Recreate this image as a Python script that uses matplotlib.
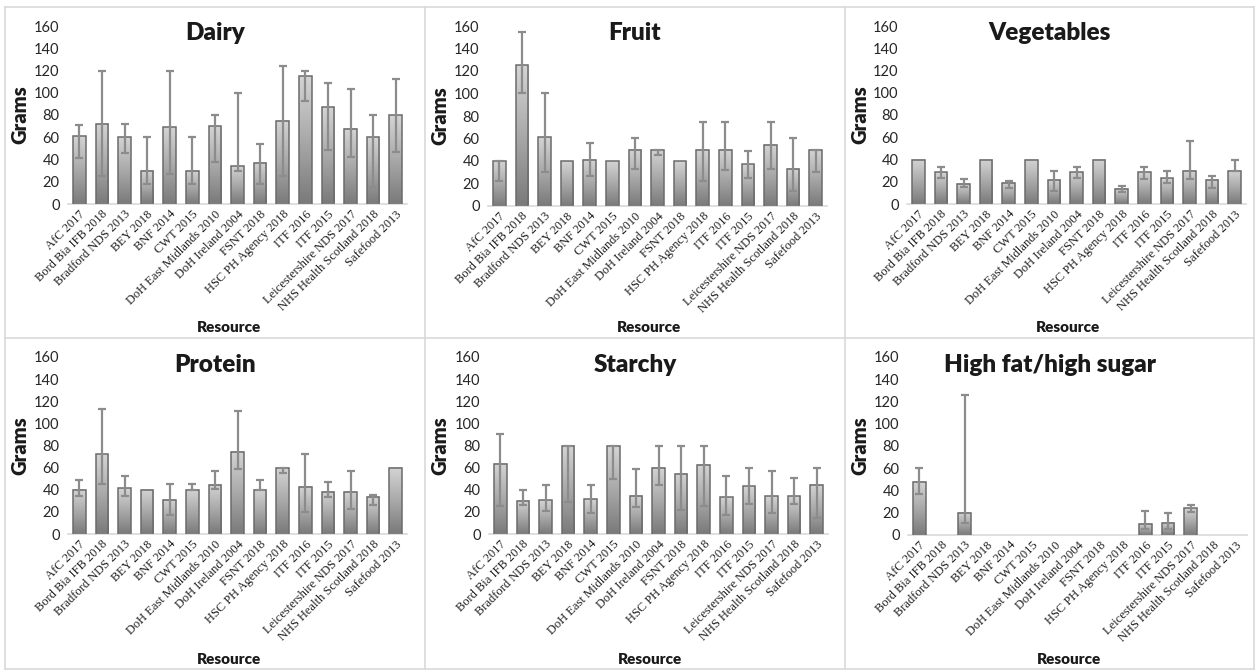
import numpy as np
import matplotlib
matplotlib.use('Agg')
import matplotlib.pyplot as plt
from matplotlib.colors import LinearSegmentedColormap
from matplotlib.lines import Line2D

resources = ['AfC 2017', 'Bord Bia IFB 2018', 'Bradford NDS 2013', 'BEY 2018', 'BNF 2014',
             'CWT 2015', 'DoH East Midlands 2010', 'DoH Ireland 2004', 'FSNT 2018',
             'HSC PH Agency 2018', 'ITF 2016', 'ITF 2015', 'Leicestershire NDS 2017',
             'NHS Health Scotland 2018', 'Safefood 2013']

nan = np.nan

# mean portion (g), lower and upper end of the range
dairy = [61, 72, 60, 30, 69, 30, 70, 34, 37, 75, 115, 87, 67.5, 60, 80]
dairy_lo = [41, 25, 46, 18, 27, 18, 38, 30, 18, 25, 93, 48.5, 42.5, 15.6, 47]
dairy_hi = [71, 120, 72, 60, 120, 60, 80, 100, 54, 124, 120, 109, 103, 80, 112]

fruit = [40, 125, 61, 40, 41, 40, 50, 50, 40, 50, 50, 37, 54.5, 33, 50]
fruit_lo = [22, 100, 30, nan, 27, nan, 33, 45, nan, 22, 32, 25, 33, 13, 30]
fruit_hi = [40, 155, 100, nan, 56, nan, 60, 50, nan, 75, 75, 49, 75, 60, 50]

veg = [40, 28.5, 18, 40, 19, 40, 22, 28.5, 40, 13.5, 28.5, 23, 30, 22, 30]
veg_lo = [nan, 23.7, 15.6, nan, 14.7, nan, 11.7, 23.7, nan, 10.5, 22.5, 18.6, 22.5, 14.7, 30]
veg_hi = [nan, 33.5, 22.5, nan, 20.7, nan, 30, 33.5, nan, 16.5, 33.5, 30, 57, 25.5, 40]

protein = [40, 72, 41.5, 40, 31, 40, 44.5, 74.5, 40, 60, 42.5, 38, 38, 33.5, 60]
protein_lo = [34.5, 45, 34.5, nan, 16.8, 40, 41, 59, 40, 55, 20, 33, 22.8, 26.4, nan]
protein_hi = [49, 113, 52.5, nan, 45.6, 45, 56.5, 111, 49, 60, 72, 47.4, 56.5, 35.7, nan]

starchy = [63.7, 30, 30.6, 80, 31.2, 80, 34.8, 60, 54.6, 62.8, 33, 43, 34, 34.2, 44.7]
starchy_lo = [25, 25.8, 20.7, 29, 18.6, 50, 24.6, 44.7, 22, 25, 16.8, 27, 19, 27, 14.7]
starchy_hi = [90, 40, 44.7, 80, 44.7, 80, 59, 80, 80, 80, 52, 60, 56.5, 51, 60]

hfhs = [48, 0, 20, 0, 0, 0, 0, 0, 0, 0, 10, 11, 24, 0, 0]
hfhs_lo = [37, nan, 10.5, nan, nan, nan, nan, nan, nan, nan, 5, 5, 21, nan, nan]
hfhs_hi = [60, nan, 125.6, nan, nan, nan, nan, nan, nan, nan, 21.5, 19.4, 27, nan, nan]

titles = ['Dairy', 'Fruit', 'Vegetables', 'Protein', 'Starchy', 'High fat/high sugar']
panels = [(dairy, dairy_lo, dairy_hi), (fruit, fruit_lo, fruit_hi), (veg, veg_lo, veg_hi),
          (protein, protein_lo, protein_hi), (starchy, starchy_lo, starchy_hi),
          (hfhs, hfhs_lo, hfhs_hi)]

W, H = 1259, 670
fig = plt.figure(figsize=(W / 100, H / 100), dpi=100)

# plot areas in pixels: left, zero line y, top y
boxes = [(68, 204, 26), (488, 206, 26), (907, 204, 26),
         (68, 534, 357), (489, 534, 357), (908, 535, 357)]
plot_w = 339
chart_x = [(5, 425), (425, 845), (845, 1254)]

grad = LinearSegmentedColormap.from_list('g', ['#7a7a7a', '#a9a9a9', '#d4d4d4'])
gimg = np.linspace(0, 1, 100).reshape(-1, 1)

for i, (vals, lo, hi) in enumerate(panels):
    x0, y0, y1 = boxes[i]
    ax = fig.add_axes([x0 / W, 1 - y0 / H, plot_w / W, (y0 - y1) / H])
    vals = np.array(vals, dtype=float)
    lo = np.array(lo, dtype=float)
    hi = np.array(hi, dtype=float)
    x = np.arange(len(resources))
    bars = ax.bar(x, vals, width=0.55, facecolor='none', edgecolor='#6b6b6b', linewidth=1.1, zorder=3)
    for b in bars:
        if b.get_height() <= 0:
            b.set_linewidth(0)
            continue
        ax.imshow(gimg, cmap=grad, origin='lower', aspect='auto', zorder=2,
                  extent=[b.get_x(), b.get_x() + b.get_width(), 0, b.get_height()])
    yerr = np.vstack([vals - lo, hi - vals])
    ax.errorbar(x, vals, yerr=yerr, fmt='none', ecolor='#8c8c8c', elinewidth=1.6,
                capsize=3, capthick=1.6, zorder=4)
    ax.set_xlim(-0.5, len(resources) - 0.5)
    ax.set_ylim(0, 160)
    ax.set_yticks(np.arange(0, 161, 20))
    ax.set_xticks(x)
    ax.set_xticklabels(resources, rotation=45, ha='right', rotation_mode='anchor',
                       family='Liberation Serif', fontsize=9, color='#1f1f1f')
    for lab in ax.get_yticklabels():
        lab.set_family('Lato')
        lab.set_fontsize(10.5)
        lab.set_color('#262626')
    ax.tick_params(axis='both', length=0)
    ax.tick_params(axis='x', pad=3)
    ax.tick_params(axis='y', pad=6)
    for s in ['top', 'right', 'left']:
        ax.spines[s].set_visible(False)
    ax.spines['bottom'].set_color('#d9d9d9')
    ax.spines['bottom'].set_linewidth(1.2)
    ax.patch.set_alpha(0)

    row = i // 3
    cx0, cx1 = chart_x[i % 3]
    title_y = 33 if row == 0 else 365
    fig.text((cx0 + cx1) / 2 / W, 1 - title_y / H, titles[i], family='Lato', fontweight='heavy',
             fontsize=17.5, ha='center', va='center', color='#1a1a1a')
    fig.text((cx0 + 15) / W, 1 - (y0 - 0.5 * (y0 - y1)) / H, 'Grams', family='Lato',
             fontweight='heavy', fontsize=14.5, rotation=90, ha='center', va='center', color='#1a1a1a')
    res_y = 327 if row == 0 else 660
    fig.text((x0 + 161) / W, 1 - res_y / H, 'Resource', family='Lato', fontweight='heavy',
             fontsize=11, ha='center', va='center', color='#1a1a1a')

# chart area borders
bc = '#d9d9d9'
for xx in [5, 425, 845, 1254]:
    fig.add_artist(Line2D([xx / W, xx / W], [1 - 7 / H, 1 - 669 / H], color=bc, lw=1.2))
for yy in [7, 338, 669]:
    fig.add_artist(Line2D([5 / W, 1254 / W], [1 - yy / H, 1 - yy / H], color=bc, lw=1.2))

fig.savefig('out.png', dpi=100, facecolor='white')
